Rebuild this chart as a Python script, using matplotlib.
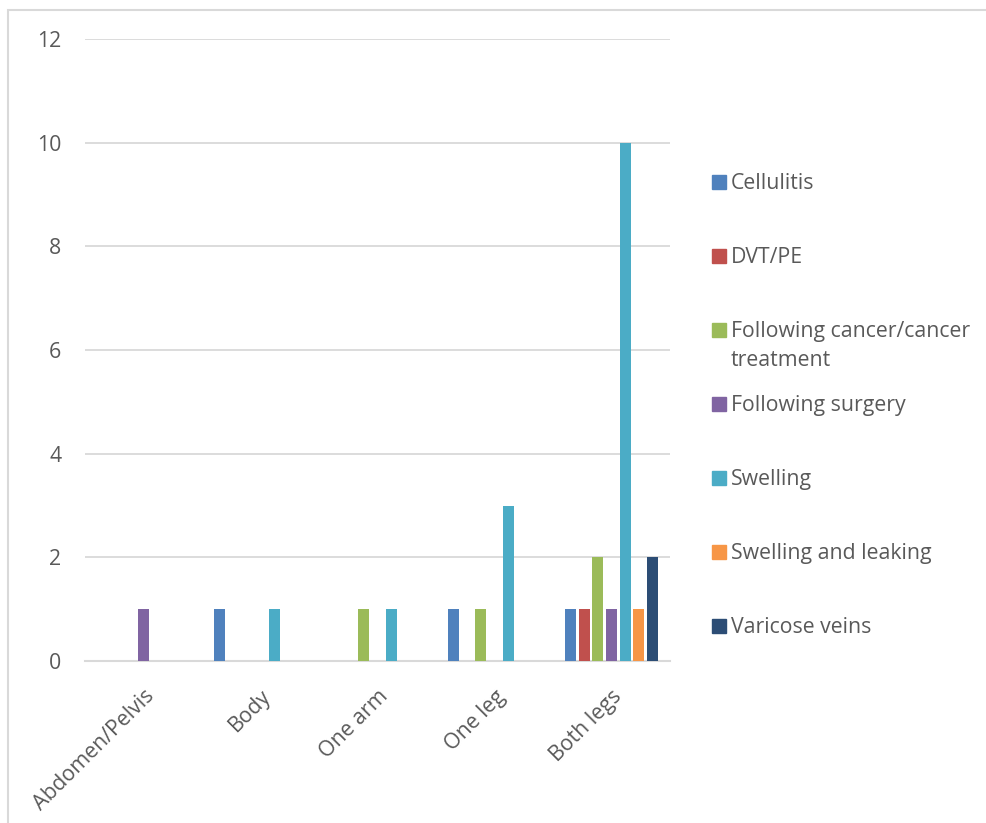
import matplotlib as mpl
import numpy as np
import matplotlib.pyplot as plt
from matplotlib.patches import Rectangle

# body regions on the x axis
regions = ['Abdomen/Pelvis', 'Body', 'One arm', 'One leg', 'Both legs']

# counts per cause, one list per series (same order as regions)
cellulitis = [0, 1, 0, 1, 1]
dvt_pe = [0, 0, 0, 0, 1]
after_cancer = [0, 0, 1, 1, 2]
after_surgery = [1, 0, 0, 0, 1]
swelling = [0, 1, 1, 3, 10]
swelling_leaking = [0, 0, 0, 0, 1]
varicose = [0, 0, 0, 0, 2]

series_names = ['Cellulitis', 'DVT/PE', 'Following cancer/cancer\ntreatment',
                'Following surgery', 'Swelling', 'Swelling and leaking',
                'Varicose veins']
series_vals = [cellulitis, dvt_pe, after_cancer, after_surgery, swelling,
               swelling_leaking, varicose]
colors = ['#4F81BD', '#C0504D', '#9BBB59', '#8064A2', '#4BACC6', '#F79646', '#2C4D75']

txt = '#595959'
grid = '#d9d9d9'
fs = 15.3
plt.rcParams['font.family'] = ['Open Sans', 'DejaVu Sans']

fig = plt.figure(figsize=(9.86, 8.23), dpi=100)
ax = fig.add_axes([85/986, 1-661/823, 585/986, 622/823])

x = np.arange(len(regions))
step = 0.116
w = 0.094
for i, (vals, c) in enumerate(zip(series_vals, colors)):
    ax.bar(x + (i-3)*step, vals, width=w, color=c, linewidth=0, zorder=3)

ax.set_xlim(-0.5, len(regions)-0.5)
ax.set_ylim(0, 12)
ax.set_yticks(range(0, 13, 2))
ax.yaxis.grid(True, color=grid, linewidth=1.3, zorder=0)
for s in ['top', 'right', 'left']:
    ax.spines[s].set_visible(False)
ax.spines['bottom'].set_color(grid)
ax.spines['bottom'].set_linewidth(1.5)
ax.tick_params(axis='both', length=0, colors=txt, labelsize=fs)
ax.tick_params(axis='y', pad=17)
ax.set_xticks(x)
ax.set_xticklabels(regions, rotation=45, ha='right', rotation_mode='anchor')
ax.tick_params(axis='x', pad=18)

# legend drawn by hand so the entries sit on a fixed pitch
for k, (name, c) in enumerate(zip(series_names, colors)):
    yc = 182 + 74*k
    fig.patches.append(Rectangle((712/986, 1-(yc+7)/823), 14/986, 14/823,
                                 transform=fig.transFigure, color=c))
    fig.text(731/986, 1-(yc-9)/823, name, color=txt, fontsize=fs,
             va='top', ha='left', linespacing=1.5)

# chart frame
fig.patches.append(Rectangle((8/986, -0.1), 1.2, 1.1-10/823, transform=fig.transFigure,
                             fill=False, edgecolor=grid, linewidth=1.5))

fig.savefig('out.png', dpi=100)
